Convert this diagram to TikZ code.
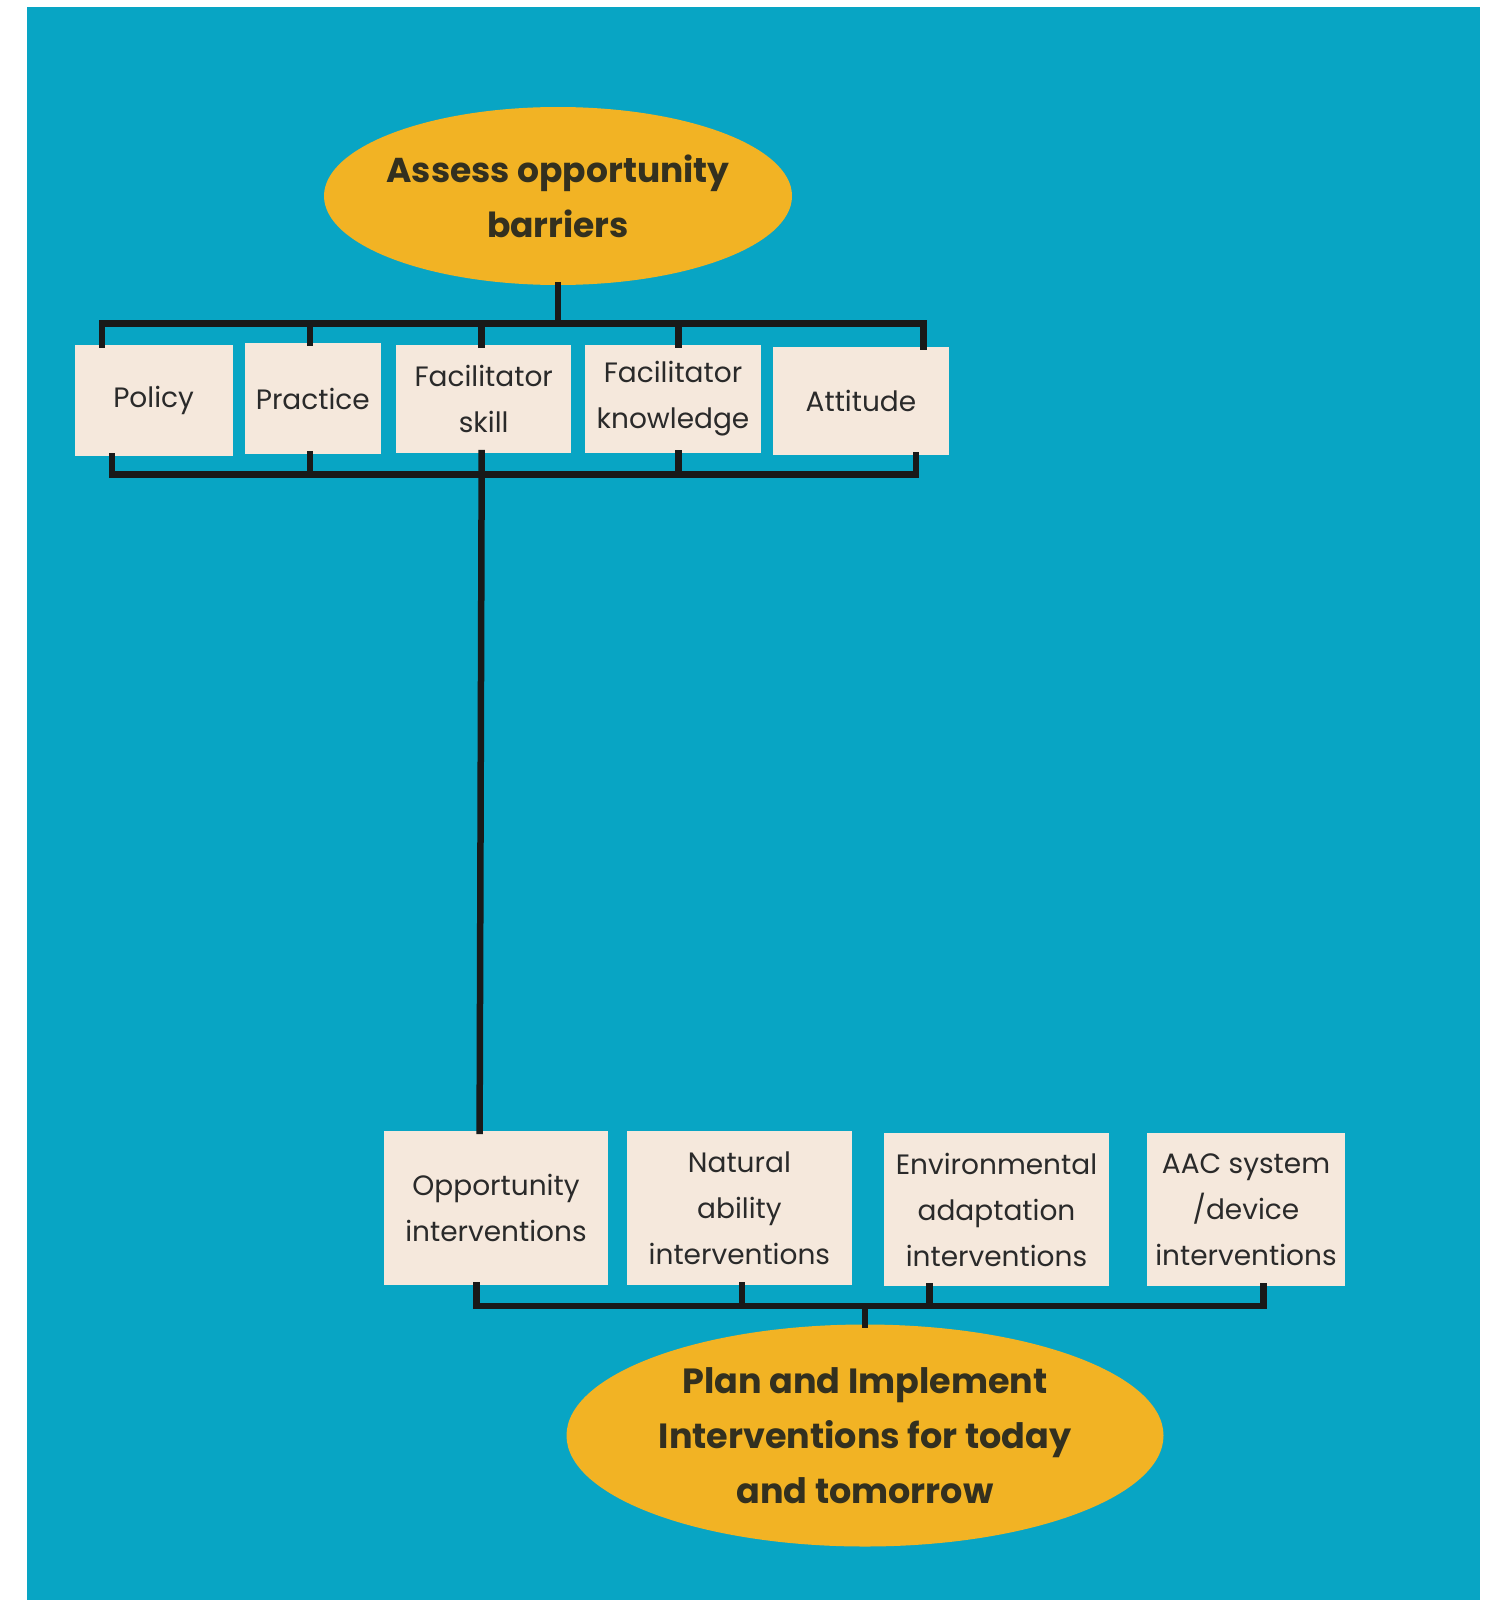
\documentclass[tikz,border=0pt]{standalone}
\usepackage{fontspec}
\setmainfont{Poppins}
\usetikzlibrary{shapes.geometric}
\definecolor{sea}{HTML}{08A5C4}
\definecolor{sun}{HTML}{F2B324}
\definecolor{paper}{HTML}{F5E8DC}
\definecolor{ink}{HTML}{2A2A2A}
\definecolor{boldink}{HTML}{33301F}
\tikzset{
  goal/.style={ellipse, fill=sun, inner sep=0pt, align=center, text=boldink,
    font=\fontsize{34.5}{55}\selectfont\bfseries},
  card/.style={rectangle, fill=paper, inner sep=0pt, align=center, text=ink,
    font=\fontsize{28}{46}\selectfont},
  wire/.style={draw=black!90, line width=6.5pt, line cap=rect}
}
\begin{document}
\begin{tikzpicture}[x=1pt, y=-1pt]
\useasboundingbox (0,0) rectangle (1496,1600);
\fill[white] (0,0) rectangle (1496,1600);
\fill[sea] (27,7) rectangle (1480,1600);

% top goal (negative xsep keeps the ellipse at its minimum width)
\node[goal, inner xsep=-30pt, minimum width=468pt, minimum height=178pt] (assess) at (558,196)
  {Assess opportunity\\barriers};

% barrier cards
\node[card, minimum width=158pt, minimum height=111pt] (policy) at (153.6,400.5) {Policy};
\node[card, minimum width=136pt, minimum height=111pt] (practice) at (312.8,398.5) {Practice};
\node[card, minimum width=175.5pt, minimum height=108pt] (skill) at (483.7,399) {Facilitator\\skill};
\node[card, minimum width=176.5pt, minimum height=108pt] (knowledge) at (673,399) {Facilitator\\knowledge};
\node[card, minimum width=175.5pt, minimum height=108pt] (attitude) at (861,401) {Attitude};

% intervention cards
\node[card, minimum width=224.5pt, minimum height=154pt] (opp) at (496,1208) {Opportunity\\interventions};
\node[card, minimum width=225.5pt, minimum height=154pt] (nat) at (739.4,1208) {Natural\\ability\\interventions};
\node[card, minimum width=225.6pt, minimum height=153pt] (env) at (996.5,1209.5) {Environmental\\adaptation\\interventions};
\node[card, minimum width=198pt, minimum height=153pt] (aac) at (1246,1209.5) {AAC system\\/device\\interventions};

% bottom goal
\node[goal, minimum width=597pt, minimum height=222pt, font=\fontsize{35}{55}\selectfont\bfseries]
  (plan) at (865,1435.5)
  {Plan and Implement\\Interventions for today\\and tomorrow};

% upper bracket
\coordinate (tl) at (102,323.5);
\coordinate (tr) at (923.6,323.5);
\coordinate (t2) at (310,323.5);
\coordinate (t3) at (481.7,323.5);
\coordinate (t4) at (678.6,323.5);
\draw[wire] (assess.south) -- (assess.south |- tl);
\draw[wire] (tl) -- (tr);
\draw[wire] (tl) -- (policy.north -| tl);
\draw[wire] (t2) -- (practice.north -| t2);
\draw[wire] (t3) -- (skill.north -| t3);
\draw[wire] (t4) -- (knowledge.north -| t4);
\draw[wire] (tr) -- (attitude.north -| tr);

% lower bracket
\coordinate (bl) at (112,474.5);
\coordinate (br) at (916,474.5);
\coordinate (b2) at (310,474.5);
\coordinate (b3) at (481.7,474.5);
\coordinate (b4) at (678.6,474.5);
\coordinate (oppin) at (479.6,1200);
\draw[wire] (bl) -- (br);
\draw[wire] (bl) -- (policy.south -| bl);
\draw[wire] (b2) -- (practice.south -| b2);
\draw[wire] (b4) -- (knowledge.south -| b4);
\draw[wire] (br) -- (attitude.south -| br);

% link from the barriers to the interventions
\draw[wire] (skill.south -| b3) -- (opp.north -| oppin);

% interventions bracket
\coordinate (il) at (476.6,1306);
\coordinate (ir) at (1263.4,1306);
\coordinate (i2) at (742,1306);
\coordinate (i3) at (929.7,1306);
\draw[wire] (il) -- (ir);
\draw[wire] (il) -- (opp.south -| il);
\draw[wire] (i2) -- (nat.south -| i2);
\draw[wire] (i3) -- (env.south -| i3);
\draw[wire] (ir) -- (aac.south -| ir);
\draw[wire] (plan.north |- il) -- (plan.north);
\end{tikzpicture}
\end{document}
